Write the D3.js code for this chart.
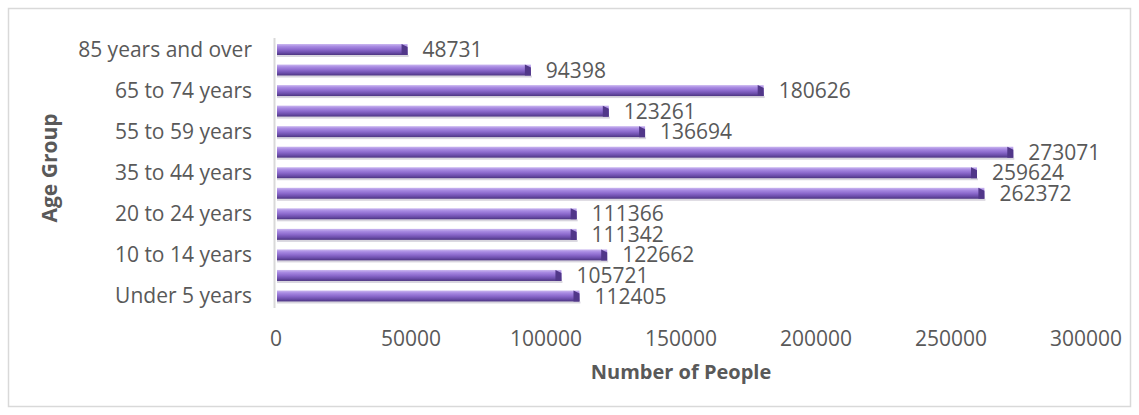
<!DOCTYPE html>
<html>
<head>
<meta charset="utf-8">
<script src="https://cdn.jsdelivr.net/npm/d3@7"></script>
<style>
  body { margin: 0; background: #fff; }
  text { font-family: "Open Sans", "Noto Sans", sans-serif; fill: #595959; }
</style>
</head>
<body>
<div id="chart"></div>
<script>
const width = 1139;
const height = 415;

// data, bottom to top as in the chart
const ageGroups = ['Under 5 years', '5 to 9 years', '10 to 14 years', '15 to 19 years',
    '20 to 24 years', '25 to 34 years', '35 to 44 years', '45 to 54 years',
    '55 to 59 years', '60 to 64 years', '65 to 74 years', '75 to 84 years',
    '85 years and over'];
const people = [112405, 105721, 122662, 111342, 111366, 262372, 259624, 273071,
    136694, 123261, 180626, 94398, 48731];
const xTicks = [0, 50000, 100000, 150000, 200000, 250000, 300000];

const svg = d3.select('#chart')
    .append('svg')
    .attr('width', width)
    .attr('height', height);

// bar shading, light top to dark bottom
const defs = svg.append('defs');
const grad = defs.append('linearGradient')
    .attr('id', 'barGrad')
    .attr('x1', 0).attr('y1', 0).attr('x2', 0).attr('y2', 1);
[['0%', '#cbb8f0'], ['22%', '#a88ae2'], ['50%', '#8c6acd'], ['78%', '#6b4daa'], ['100%', '#4c3480']]
    .forEach(s => grad.append('stop').attr('offset', s[0]).attr('stop-color', s[1]));

// chart border
svg.append('rect')
    .attr('x', 8.5).attr('y', 8.5)
    .attr('width', width - 17).attr('height', height - 17)
    .attr('fill', 'none')
    .attr('stroke', '#d9d9d9')
    .attr('stroke-width', 1.5);

const x = d3.scaleLinear().domain([0, 300000]).range([276, 1086]);
const y = d3.scalePoint().domain(ageGroups).range([296, 49.5]);
const barH = 11;

// back wall edge
svg.append('line')
    .attr('x1', 274.5).attr('x2', 274.5)
    .attr('y1', 38).attr('y2', 308)
    .attr('stroke', '#d9d9d9')
    .attr('stroke-width', 2);

const rows = svg.append('g').selectAll('g')
    .data(ageGroups)
    .join('g');

// soft shadow under each bar
rows.append('rect')
    .attr('x', x(0) + 1)
    .attr('y', d => y(d) + barH / 2)
    .attr('width', (d, i) => x(people[i]) - x(0))
    .attr('height', 2)
    .attr('fill', '#d8d5de');

rows.append('rect')
    .attr('x', x(0) + 1)
    .attr('y', d => y(d) - barH / 2)
    .attr('width', (d, i) => x(people[i]) - x(0) - 1)
    .attr('height', barH)
    .attr('fill', 'url(#barGrad)');

// 3d end cap
rows.append('path')
    .attr('d', (d, i) => {
        const xe = x(people[i]), yc = y(d);
        return `M${xe - 6},${yc - barH / 2} L${xe},${yc - barH / 2 + 3} L${xe},${yc + barH / 2} L${xe - 6},${yc + barH / 2} Z`;
    })
    .attr('fill', '#513789');

// value labels
rows.append('text')
    .attr('x', (d, i) => x(people[i]) + 15)
    .attr('y', d => y(d) + 7.5)
    .attr('font-size', 21)
    .text((d, i) => people[i]);

// category labels, every other one shown
svg.append('g').selectAll('text')
    .data(ageGroups.filter((d, i) => i % 2 === 0))
    .join('text')
    .attr('x', 252)
    .attr('y', d => y(d) + 7)
    .attr('text-anchor', 'end')
    .attr('font-size', 21)
    .text(d => d);

// x tick labels
svg.append('g').selectAll('text')
    .data(xTicks)
    .join('text')
    .attr('x', d => x(d))
    .attr('y', 346)
    .attr('text-anchor', 'middle')
    .attr('font-size', 21)
    .text(d => d);

svg.append('text')
    .attr('x', x(150000))
    .attr('y', 379)
    .attr('text-anchor', 'middle')
    .attr('font-size', 20)
    .attr('font-weight', 'bold')
    .text('Number of People');

svg.append('text')
    .attr('transform', 'translate(57,168) rotate(-90)')
    .attr('text-anchor', 'middle')
    .attr('font-size', 21)
    .attr('font-weight', 'bold')
    .text('Age Group');
</script>
</body>
</html>
